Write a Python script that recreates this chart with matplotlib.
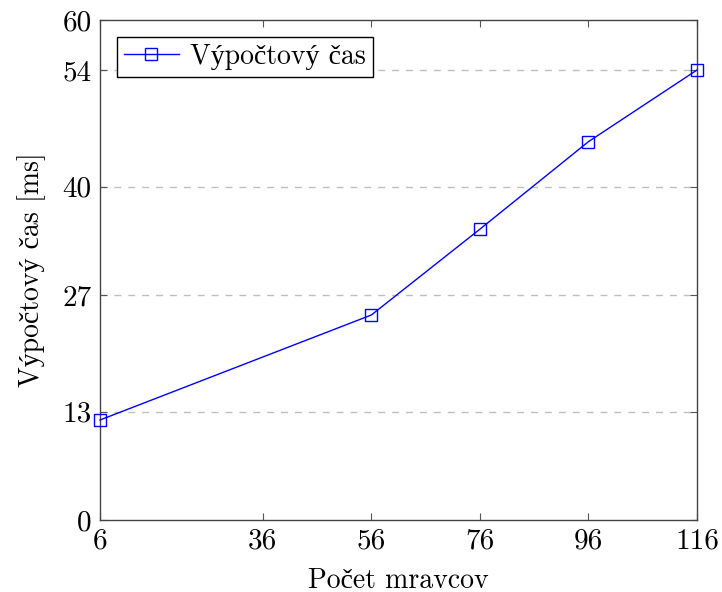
import matplotlib
matplotlib.use("Agg")
import matplotlib.pyplot as plt

ants = [6, 56, 76, 96, 116]
times = [12.0, 24.6, 34.9, 45.4, 54.0]
xticks = [6, 36, 56, 76, 96, 116]
yticks = [0, 13, 27, 40, 54, 60]
series_label = "Výpočtový čas"
xlabel = "Počet mravcov"
ylabel = "Výpočtový čas [ms]"

plt.rcParams['font.family'] = ['cmr10', 'Liberation Serif', 'DejaVu Serif']
plt.rcParams['axes.formatter.use_mathtext'] = True
plt.rcParams['mathtext.fontset'] = 'cm'

fig = plt.figure(figsize=(7.22, 5.92), dpi=100)
ax = fig.add_axes([100/722, 1-520/592, 597/722, 500/592])

for t in yticks[1:-1]:
    ax.axhline(t, color='#bfbfbf', lw=1.0, ls=(0, (5, 5)), zorder=0)

ax.plot(ants, times, color='blue', lw=1.0, marker='s', markersize=8,
        markerfacecolor='none', markeredgecolor='blue', markeredgewidth=1.0,
        label=series_label, clip_on=False, zorder=3)

ax.set_xlim(6, 116)
ax.set_ylim(0, 60)
ax.set_xticks(xticks)
ax.set_yticks(yticks)
ax.set_xticklabels([str(v) for v in xticks])
ax.set_yticklabels([str(v) for v in yticks])
ax.tick_params(direction='in', length=5, width=0.8, color='#555555', top=True, right=True,
               labelsize=21, pad=6)
for s in ax.spines.values():
    s.set_color('#444444')
    s.set_linewidth(1.0)

ax.set_xlabel(xlabel, fontsize=20, labelpad=9)
ax.set_ylabel(ylabel, fontsize=20, labelpad=12)

leg = ax.legend(loc='upper left', fontsize=20, frameon=True, fancybox=False,
                edgecolor='black', framealpha=1, borderpad=0.25, handlelength=2.0,
                handletextpad=0.4, borderaxespad=0.6)
leg.get_frame().set_linewidth(1.0)

fig.savefig("out.png", dpi=100)
